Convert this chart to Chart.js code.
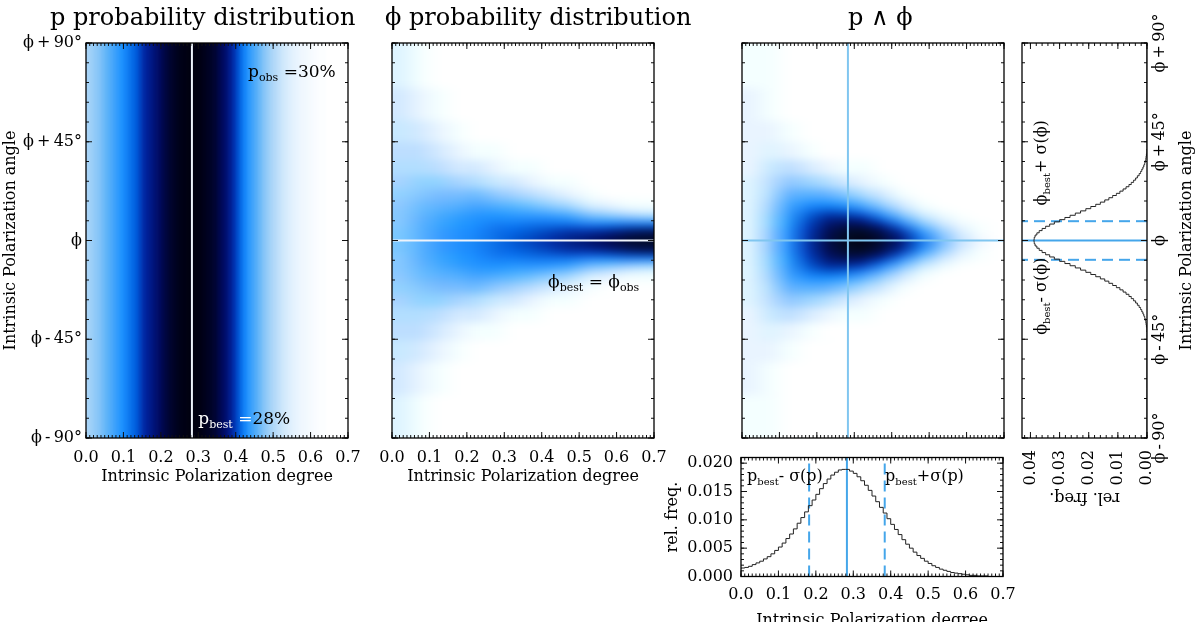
<!DOCTYPE html>
<html>
<head>
<meta charset="utf-8">
<script src="https://cdn.jsdelivr.net/npm/chart.js@4.4.0/dist/chart.umd.min.js"></script>
<style>
html,body{margin:0;padding:0;background:#fff;width:1200px;height:622px;overflow:hidden;}
#wrap{position:relative;width:1200px;height:622px;overflow:hidden;}
canvas{position:absolute;}
</style>
</head>
<body>
<div id="wrap">
<canvas id="c1" width="370" height="500" style="left:0px;top:0px"></canvas>
<canvas id="c2" width="330" height="500" style="left:372px;top:0px"></canvas>
<canvas id="c3" width="290" height="450" style="left:722px;top:0px"></canvas>
<canvas id="c5" width="380" height="190" style="left:640px;top:445px"></canvas>
<canvas id="c4" width="520" height="200" style="left:852px;top:158px;transform:rotate(-90deg);"></canvas>
</div>
<script>
// ===================== DATA =====================
const pTicks = [0, 0.1, 0.2, 0.3, 0.4, 0.5, 0.6, 0.7];
const phiTicks = [-90, -45, 0, 45, 90];
const phiTickLabels = ['ϕ\u2009-\u200990°', 'ϕ\u2009-\u200945°', 'ϕ', 'ϕ\u2009+\u200945°', 'ϕ\u2009+\u200990°'];
const relFreqTicksP = [0, 0.005, 0.010, 0.015, 0.020];
const relFreqTicksPhi = [0, 0.01, 0.02, 0.03, 0.04];

const pObs = 0.30;
const pBest = 0.283;
const sigmaP = 0.101;
const phiBest = 0;
const sigmaPhi = 8.8;

// Panel 1: p likelihood level (0 = white ... 1 = black), one value per 0.01-wide column from p = 0.00
const pProbLevel = [
  .25,.27,.29,.31,.34,.37,.40,.43,.46,.49,
  .52,.55,.58,.61,.65,.69,.72,.75,.78,.81,
  .85,.88,.91,.94,.96,.98,.99,1.0,1.0,1.0,
  .99,.97,.95,.93,.90,.86,.82,.78,.73,.68,
  .63,.57,.52,.47,.43,.39,.35,.31,.28,.25,
  .22,.19,.16,.14,.12,.10,.08,.06,.05,.04,
  .03,.02,.01,.01,0,0,0,0,0,0
];

// Panels 2 and 3: cell grid, columns along p, rows along phi (bottom to top)
const gridPEdges = [0,0.05,0.1,0.15,0.2,0.25,0.3,0.35,0.4,0.45,0.5,0.55,0.6,0.65,0.7];
const gridPhiEdges = [-90,-70,-55,-45,-37,-30,-24,-19,-15,-12,-9,-6,-3,0,3,6,9,12,15,19,24,30,37,45,55,70,90];

const phiProbLevel = [
  [.13,.16,.19,.22,.25,.27,.29,.30,.31,.32,.32,.33,.33, .33,.33,.32,.32,.31,.30,.29,.27,.25,.22,.19,.16,.13],
  [.06,.10,.15,.20,.25,.29,.32,.35,.37,.38,.39,.40,.40, .40,.40,.39,.38,.37,.35,.32,.29,.25,.20,.15,.10,.06],
  [.02,.04,.09,.15,.22,.29,.34,.38,.41,.43,.45,.46,.46, .46,.46,.45,.43,.41,.38,.34,.29,.22,.15,.09,.04,.02],
  [0,.01,.04,.10,.17,.26,.34,.40,.44,.47,.49,.50,.50, .50,.50,.49,.47,.44,.40,.34,.26,.17,.10,.04,.01,0],
  [0,0,.02,.07,.15,.25,.35,.42,.47,.50,.52,.53,.54, .54,.53,.52,.50,.47,.42,.35,.25,.15,.07,.02,0,0],
  [0,0,.01,.04,.10,.19,.30,.40,.47,.52,.55,.57,.58, .58,.57,.55,.52,.47,.40,.30,.19,.10,.04,.01,0,0],
  [0,0,0,.02,.07,.15,.26,.37,.45,.51,.56,.60,.62, .62,.60,.56,.51,.45,.37,.26,.15,.07,.02,0,0,0],
  [0,0,0,.01,.04,.11,.21,.33,.43,.51,.58,.63,.66, .66,.63,.58,.51,.43,.33,.21,.11,.04,.01,0,0,0],
  [0,0,0,0,.02,.07,.16,.28,.40,.50,.59,.66,.70, .70,.66,.59,.50,.40,.28,.16,.07,.02,0,0,0,0],
  [0,0,0,0,.01,.04,.11,.23,.35,.47,.59,.69,.75, .75,.69,.59,.47,.35,.23,.11,.04,.01,0,0,0,0],
  [0,0,0,0,0,.01,.05,.13,.27,.40,.55,.70,.80, .80,.70,.55,.40,.27,.13,.05,.01,0,0,0,0,0],
  [0,0,0,0,0,0,.03,.09,.22,.37,.56,.74,.85, .85,.74,.56,.37,.22,.09,.03,0,0,0,0,0,0],
  [0,0,0,0,0,0,.02,.06,.17,.34,.57,.79,.90, .90,.79,.57,.34,.17,.06,.02,0,0,0,0,0,0],
  [0,0,0,0,0,0,.01,.04,.13,.31,.58,.84,.95, .95,.84,.58,.31,.13,.04,.01,0,0,0,0,0,0]
];

const jointProbLevel = [
  [.07,.08,.09,.10,.11,.12,.12,.13,.13,.14,.14,.14,.14, .14,.14,.14,.14,.13,.13,.12,.12,.11,.10,.09,.08,.07],
  [.04,.06,.10,.14,.18,.22,.25,.27,.28,.29,.29,.30,.30, .30,.30,.29,.29,.28,.27,.25,.22,.18,.14,.10,.06,.04],
  [.01,.02,.05,.11,.20,.30,.38,.43,.46,.48,.49,.50,.50, .50,.50,.49,.48,.46,.43,.38,.30,.20,.11,.05,.02,.01],
  [0,0,.02,.06,.15,.28,.40,.50,.57,.62,.65,.67,.68, .68,.67,.65,.62,.57,.50,.40,.28,.15,.06,.02,0,0],
  [0,0,.01,.03,.10,.23,.38,.52,.64,.73,.80,.84,.86, .86,.84,.80,.73,.64,.52,.38,.23,.10,.03,.01,0,0],
  [0,0,0,.02,.07,.17,.32,.48,.62,.75,.87,.95,.98, .98,.95,.87,.75,.62,.48,.32,.17,.07,.02,0,0,0],
  [0,0,0,.01,.04,.11,.25,.40,.55,.70,.85,.96,1.0, 1.0,.96,.85,.70,.55,.40,.25,.11,.04,.01,0,0,0],
  [0,0,0,0,.02,.06,.15,.28,.42,.56,.72,.86,.92, .92,.86,.72,.56,.42,.28,.15,.06,.02,0,0,0,0],
  [0,0,0,0,0,.02,.07,.16,.27,.40,.55,.70,.78, .78,.70,.55,.40,.27,.16,.07,.02,0,0,0,0,0],
  [0,0,0,0,0,0,.02,.07,.14,.24,.36,.50,.58, .58,.50,.36,.24,.14,.07,.02,0,0,0,0,0,0],
  [0,0,0,0,0,0,0,.02,.06,.12,.21,.32,.38, .38,.32,.21,.12,.06,.02,0,0,0,0,0,0,0],
  [0,0,0,0,0,0,0,0,.02,.05,.10,.16,.20, .20,.16,.10,.05,.02,0,0,0,0,0,0,0,0],
  [0,0,0,0,0,0,0,0,0,.02,.04,.06,.08, .08,.06,.04,.02,0,0,0,0,0,0,0,0,0],
  [0,0,0,0,0,0,0,0,0,0,.01,.02,.02, .02,.02,.01,0,0,0,0,0,0,0,0,0,0]
];

// Panel 5: relative frequency of p, 0.01-wide bins starting at p = 0.00
const pHistFreq = [
  .0014,.0015,.0016,.0018,.0021,.0024,.0027,.0031,.0035,.0040,
  .0046,.0052,.0059,.0067,.0075,.0084,.0094,.0104,.0114,.0125,
  .0135,.0145,.0155,.0164,.0172,.0179,.0184,.0188,.0189,.0189,
  .0186,.0182,.0176,.0169,.0161,.0152,.0142,.0132,.0122,.0112,
  .0102,.0092,.0083,.0074,.0065,.0057,.0050,.0043,.0037,.0032,
  .0027,.0023,.0019,.0016,.0013,.0011,.0009,.0007,.0006,.0005,
  .0004,.0003,.0002,.0002,.0001,.0001,.0001,0,0,0
];

// Panel 4: relative frequency of phi, 1-degree bins centred on -45 ... +45
const phiHistFreq = [
  0,0,0,0,.0001,.0001,.0002,.0003,.0004,.0006,.0008,.0011,.0014,.0018,.0022,
  .0027,.0033,.0039,.0046,.0054,.0062,.0072,.0082,.0093,.0105,.0118,.0131,.0145,.0160,.0176,
  .0193,.0210,.0228,.0246,.0264,.0282,.0300,.0318,.0334,.0348,.0360,.0370,.0378,.0384,.0387,
  .0388,
  .0387,.0384,.0378,.0370,.0360,.0348,.0334,.0318,.0300,.0282,.0264,.0246,.0228,.0210,.0193,
  .0176,.0160,.0145,.0131,.0118,.0105,.0093,.0082,.0072,.0062,.0054,.0046,.0039,.0033,.0027,
  .0022,.0018,.0014,.0011,.0008,.0006,.0004,.0003,.0002,.0001,.0001,0,0,0,0
];

// ===================== STYLE / HELPERS =====================
const FONT = "'DejaVu Serif', 'Liberation Serif', serif";
Chart.defaults.font.family = FONT;
Chart.defaults.font.size = 16;
Chart.defaults.color = '#000';
Chart.defaults.animation = false;

const CMAP = [
  [0.00, [255,255,255]], [0.12, [222,239,253]], [0.25, [168,212,248]], [0.37, [96,180,248]],
  [0.50, [26,144,255]], [0.60, [0,96,224]], [0.70, [0,36,160]], [0.80, [0,12,104]],
  [0.90, [0,4,52]], [1.00, [0,0,16]]
];
function levelColor(v) {
  v = Math.max(0, Math.min(1, v));
  for (let i = 1; i < CMAP.length; i++) {
    if (v <= CMAP[i][0]) {
      const a = CMAP[i-1], b = CMAP[i];
      const t = (v - a[0]) / (b[0] - a[0]);
      const c = a[1].map((ca, k) => Math.round(ca + (b[1][k] - ca) * t));
      return `rgb(${c[0]},${c[1]},${c[2]})`;
    }
  }
  return 'rgb(0,0,16)';
}

function makeHeatmap(cfg) {
  return {
    id: 'heatmap',
    beforeDatasetsDraw(chart) {
      const {ctx, chartArea: a, scales: {x, y}} = chart;
      const W = chart.width, H = chart.height;
      const off = document.createElement('canvas');
      off.width = W; off.height = H;
      const oc = off.getContext('2d');
      const ext = 40;
      const nc = cfg.colEdges.length - 1, nr = cfg.rowEdges.length - 1;
      for (let i = 0; i < nc; i++) {
        let x0 = x.getPixelForValue(cfg.colEdges[i]);
        let x1 = x.getPixelForValue(cfg.colEdges[i + 1]);
        if (i === 0) x0 -= ext;
        if (i === nc - 1) x1 += ext;
        for (let j = 0; j < nr; j++) {
          let y0 = y.getPixelForValue(cfg.rowEdges[j]);
          let y1 = y.getPixelForValue(cfg.rowEdges[j + 1]);
          if (j === 0) y0 += ext;
          if (j === nr - 1) y1 -= ext;
          oc.fillStyle = levelColor(cfg.value(i, j));
          oc.fillRect(Math.min(x0, x1), Math.min(y0, y1), Math.abs(x1 - x0) + 0.7, Math.abs(y1 - y0) + 0.7);
        }
      }
      let src = off;
      if (cfg.hSmooth) {
        // horizontal box smoothing of the rendered cells (display only)
        const sm = document.createElement('canvas');
        sm.width = W; sm.height = H;
        const sc = sm.getContext('2d');
        const K = cfg.hSmooth, step = 2, n = 2 * K + 1;
        sc.globalCompositeOperation = 'lighter';
        sc.globalAlpha = 1 / n;
        for (let k = -K; k <= K; k++) sc.drawImage(off, k * step, 0);
        src = sm;
      }
      ctx.save();
      ctx.beginPath();
      ctx.rect(a.left, a.top, a.right - a.left, a.bottom - a.top);
      ctx.clip();
      if (cfg.blur) ctx.filter = `blur(${cfg.blur}px)`;
      ctx.drawImage(src, 0, 0, W, H);
      ctx.restore();
    }
  };
}

function makeFrame(cfg) {
  return {
    id: 'idlFrame',
    afterDatasetsDraw(chart) {
      const {ctx, chartArea: a, scales: {x, y}} = chart;
      const MAJ = 6, MIN = 3;
      ctx.save();
      ctx.strokeStyle = '#111';
      ctx.lineWidth = 1;
      ctx.beginPath();
      const xt = (v, len) => {
        const p = x.getPixelForValue(v);
        ctx.moveTo(p, a.bottom); ctx.lineTo(p, a.bottom - len);
        ctx.moveTo(p, a.top); ctx.lineTo(p, a.top + len);
      };
      const yt = (v, len) => {
        const p = y.getPixelForValue(v);
        ctx.moveTo(a.left, p); ctx.lineTo(a.left + len, p);
        ctx.moveTo(a.right, p); ctx.lineTo(a.right - len, p);
      };
      const loop = (m, f) => {
        const n = Math.round((m.to - m.from) / m.step);
        for (let i = 0; i <= n; i++) f(m.from + i * m.step, MIN);
      };
      loop(cfg.xMinor, xt); loop(cfg.yMinor, yt);
      cfg.xMajor.forEach(v => xt(v, MAJ));
      cfg.yMajor.forEach(v => yt(v, MAJ));
      ctx.stroke();
      ctx.lineWidth = 1.3;
      ctx.strokeStyle = '#000';
      ctx.strokeRect(a.left, a.top, a.right - a.left, a.bottom - a.top);
      ctx.restore();
    }
  };
}

function makeLabels(items) {
  return {
    id: 'labels',
    afterDraw(chart) {
      const {ctx, scales: {x, y}} = chart;
      ctx.save();
      ctx.textAlign = 'left';
      ctx.textBaseline = 'alphabetic';
      items.forEach(it => {
        let px = it.px !== undefined ? it.px : x.getPixelForValue(it.x);
        const py = it.py !== undefined ? it.py : y.getPixelForValue(it.y);
        it.parts.forEach(p => {
          ctx.font = `${p.size}px ${FONT}`;
          ctx.fillStyle = p.color || it.color || '#000';
          ctx.fillText(p.t, px, py + (p.dy || 0));
          px += ctx.measureText(p.t).width;
        });
      });
      ctx.restore();
    }
  };
}

// keep Chart.js from reserving extra room for overhanging tick labels
function fixSize(prop, val) {
  return s => { s[prop] = val; s.paddingTop = 0; s.paddingBottom = 0; s.paddingLeft = 0; s.paddingRight = 0; };
}

function pAxis({labels = true, title = true, tickPad = 10, titlePad = 0, height = 62}) {
  return {
    type: 'linear', position: 'bottom', min: 0, max: 0.7,
    grid: {display: false, drawTicks: false}, border: {display: false},
    afterBuildTicks: s => { s.ticks = pTicks.map(v => ({value: v})); },
    afterFit: fixSize('height', height),
    ticks: {display: labels, autoSkip: false, maxRotation: 0, minRotation: 0, padding: tickPad,
            callback: v => Number(v).toFixed(1)},
    title: {display: title, text: 'Intrinsic Polarization degree', padding: {top: 0, bottom: titlePad}}
  };
}
function phiAxisY({labels = true, width = 86, tickPad = 4, titlePad = 1.4}) {
  return {
    type: 'linear', position: 'left', min: -90, max: 90,
    grid: {display: false, drawTicks: false}, border: {display: false},
    afterBuildTicks: s => { s.ticks = phiTicks.map(v => ({value: v})); },
    afterFit: fixSize('width', width),
    ticks: {display: labels, autoSkip: false, padding: tickPad, callback: (v, i) => phiTickLabels[i]},
    title: {display: labels, text: 'Intrinsic Polarization angle', padding: {top: titlePad, bottom: 0}}
  };
}
const baseOpts = {
  responsive: false, devicePixelRatio: 1, animation: false,
  plugins: {legend: {display: false}, tooltip: {enabled: false}}
};
function vline(xv, y0, y1, color, width, dash) {
  return {data: [{x: xv, y: y0}, {x: xv, y: y1}], showLine: true, borderColor: color,
          borderWidth: width, borderDash: dash || [], pointRadius: 0, fill: false};
}
function hline(yv, x0, x1, color, width, dash) {
  return {data: [{x: x0, y: yv}, {x: x1, y: yv}], showLine: true, borderColor: color,
          borderWidth: width, borderDash: dash || [], pointRadius: 0, fill: false};
}
const sub = (t, size) => ({t, size, dy: 4});

const frameP = {xMajor: pTicks, xMinor: {from: 0, to: 0.7, step: 0.01},
                yMajor: phiTicks, yMinor: {from: -90, to: 90, step: 9}};
const pProbEdges = pProbLevel.map((_, i) => i * 0.01).concat([0.7]);

// ===================== PANEL 1 =====================
new Chart(document.getElementById('c1'), {
  type: 'scatter',
  data: {datasets: [vline(pBest, -90, 90, '#eef3fb', 2)]},
  options: Object.assign({}, baseOpts, {
    layout: {autoPadding: false, padding: {left: 0, top: 43, right: 22, bottom: 0}},
    scales: {x: pAxis({tickPad: 10, titlePad: 13.4, height: 62}), y: phiAxisY({})}
  }),
  plugins: [
    makeHeatmap({colEdges: pProbEdges, rowEdges: [-90, 90], value: (i) => pProbLevel[i], blur: 1}),
    makeFrame(frameP),
    makeLabels([
      {px: 50, py: 25, parts: [{t: 'p probability distribution', size: 24}]},
      {x: 0.433, y: 74.5, parts: [{t: 'p', size: 17}, sub('obs', 11), {t: ' =' + Math.round(pObs * 100) + '%', size: 17}]},
      {x: 0.300, y: -83.7, parts: [{t: 'p', size: 17, color: '#fff'}, {t: 'best', size: 11, dy: 4, color: '#fff'},
                                   {t: ' =', size: 17, color: '#fff'}, {t: Math.round(pBest * 100) + '%', size: 17}]}
    ])
  ]
});

// ===================== PANEL 2 =====================
new Chart(document.getElementById('c2'), {
  type: 'scatter',
  data: {datasets: [hline(phiBest, 0, 0.7, '#eef3fb', 2)]},
  options: Object.assign({}, baseOpts, {
    layout: {autoPadding: false, padding: {left: 0, top: 43, right: 48, bottom: 0}},
    scales: {x: pAxis({tickPad: 10, titlePad: 13.4, height: 62}), y: phiAxisY({labels: false, width: 20})}
  }),
  plugins: [
    makeHeatmap({colEdges: gridPEdges, rowEdges: gridPhiEdges, value: (i, j) => phiProbLevel[i][j], blur: 4, hSmooth: 5}),
    makeFrame(frameP),
    makeLabels([
      {px: 13, py: 25, parts: [{t: 'ϕ probability distribution', size: 24}]},
      {x: 0.417, y: -21, parts: [{t: 'ϕ', size: 17}, sub('best', 11), {t: ' = ϕ', size: 17}, sub('obs', 11)]}
    ])
  ]
});

// ===================== PANEL 3 =====================
new Chart(document.getElementById('c3'), {
  type: 'scatter',
  data: {datasets: [vline(pBest, -90, 90, '#80c6f0', 2), hline(phiBest, 0, 0.7, '#80c6f0', 2)]},
  options: Object.assign({}, baseOpts, {
    layout: {autoPadding: false, padding: {left: 0, top: 43, right: 8, bottom: 0}},
    scales: {x: pAxis({labels: false, title: false, height: 12}), y: phiAxisY({labels: false, width: 20})}
  }),
  plugins: [
    makeHeatmap({colEdges: gridPEdges, rowEdges: gridPhiEdges, value: (i, j) => jointProbLevel[i][j], blur: 4, hSmooth: 5}),
    makeFrame(frameP),
    makeLabels([{px: 126, py: 25, parts: [{t: 'p ∧ ϕ', size: 24}]}])
  ]
});

// ===================== PANEL 5 (p histogram) =====================
const lineBlue = '#45a6ea';
const pHistData = pHistFreq.map((f, i) => ({x: i * 0.01, y: f})).concat([{x: 0.7, y: pHistFreq[pHistFreq.length - 1]}]);
new Chart(document.getElementById('c5'), {
  type: 'scatter',
  data: {datasets: [
    {data: pHistData, showLine: true, stepped: 'after', borderColor: '#222', borderWidth: 1, pointRadius: 0},
    vline(pBest, 0, 0.021, lineBlue, 2),
    vline(pBest - sigmaP, 0, 0.021, lineBlue, 2, [11, 6]),
    vline(pBest + sigmaP, 0, 0.021, lineBlue, 2, [11, 6])
  ]},
  options: Object.assign({}, baseOpts, {
    layout: {autoPadding: false, padding: {left: 0, top: 12.5, right: 17, bottom: 0}},
    scales: {
      x: pAxis({tickPad: 9, titlePad: 4.4, height: 58.5}),
      y: {
        type: 'linear', position: 'left', min: 0, max: 0.021,
        grid: {display: false, drawTicks: false}, border: {display: false},
        afterBuildTicks: s => { s.ticks = relFreqTicksP.map(v => ({value: v})); },
        afterFit: fixSize('width', 101),
        ticks: {autoSkip: false, padding: 8, callback: v => Number(v).toFixed(3)},
        title: {display: true, text: 'rel. freq.', padding: {top: 23.4, bottom: 0}}
      }
    }
  }),
  plugins: [
    makeFrame({xMajor: pTicks, xMinor: {from: 0, to: 0.7, step: 0.01},
               yMajor: relFreqTicksP, yMinor: {from: 0, to: 0.021, step: 0.001}}),
    makeLabels([
      {x: 0.016, y: 0.0169, parts: [{t: 'p', size: 16}, sub('best', 10), {t: '- σ(p)', size: 16}]},
      {x: 0.385, y: 0.0169, parts: [{t: 'p', size: 16}, sub('best', 10), {t: '+σ(p)', size: 16}]}
    ])
  ]
});

// ===================== PANEL 4 (phi histogram, drawn then turned a quarter turn) =====================
const phiFreqMax = 0.0429;
const phiHistData = [{x: -90, y: 0}]
  .concat(phiHistFreq.map((f, i) => ({x: i - 45, y: f})))
  .concat([{x: 90, y: 0}]);
new Chart(document.getElementById('c4'), {
  type: 'scatter',
  data: {datasets: [
    {data: phiHistData, showLine: true, stepped: 'middle', borderColor: '#222', borderWidth: 1, pointRadius: 0},
    vline(phiBest, 0, phiFreqMax, lineBlue, 2),
    vline(phiBest - sigmaPhi, 0, phiFreqMax, lineBlue, 2, [11, 6]),
    vline(phiBest + sigmaPhi, 0, phiFreqMax, lineBlue, 2, [11, 6])
  ]},
  options: Object.assign({}, baseOpts, {
    layout: {autoPadding: false, padding: {left: 0, top: 10, right: 45, bottom: 0}},
    scales: {
      x: {
        type: 'linear', position: 'bottom', min: -90, max: 90,
        grid: {display: false, drawTicks: false}, border: {display: false},
        afterBuildTicks: s => { s.ticks = phiTicks.map(v => ({value: v})); },
        afterFit: fixSize('height', 65),
        ticks: {autoSkip: false, maxRotation: 0, minRotation: 0, padding: 3, callback: (v, i) => phiTickLabels[i]},
        title: {display: true, text: 'Intrinsic Polarization angle', padding: {top: 0, bottom: 15.4}}
      },
      y: {
        type: 'linear', position: 'left', min: 0, max: phiFreqMax,
        grid: {display: false, drawTicks: false}, border: {display: false},
        afterBuildTicks: s => { s.ticks = relFreqTicksPhi.map(v => ({value: v})); },
        afterFit: fixSize('width', 80),
        ticks: {autoSkip: false, padding: 12, callback: v => Number(v).toFixed(2)},
        title: {display: true, text: 'rel. freq.', padding: {top: 11.4, bottom: 0}}
      }
    }
  }),
  plugins: [
    makeFrame({xMajor: phiTicks, xMinor: {from: -90, to: 90, step: 9},
               yMajor: relFreqTicksPhi, yMinor: {from: 0, to: 0.042, step: 0.002}}),
    makeLabels([
      {x: -43, y: 0.0346, parts: [{t: 'ϕ', size: 16}, sub('best', 10), {t: '- σ(ϕ)', size: 16}]},
      {x: 16, y: 0.0346, parts: [{t: 'ϕ', size: 16}, sub('best', 10), {t: '+ σ(ϕ)', size: 16}]}
    ])
  ]
});
</script>
</body>
</html>
